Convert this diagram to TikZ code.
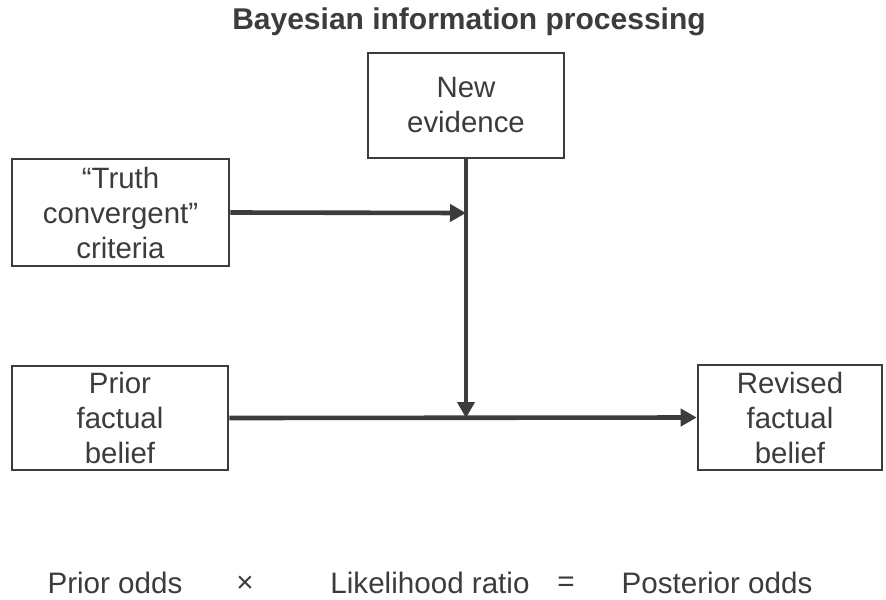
\documentclass[tikz,border=0pt]{standalone}
\usepackage{fontspec}
\setmainfont{Liberation Sans}
\usetikzlibrary{arrows.meta}
\definecolor{ink}{HTML}{3C3C3C}
\tikzset{
  box/.style={draw=ink, line width=1.3pt, text=ink, align=center, inner sep=0pt,
    font=\fontsize{14.7}{17.5}\selectfont},
  arr/.style={draw=ink, line width=2.3pt, -{Triangle[length=8pt,width=8.5pt]}},
  lbl/.style={text=ink, font=\fontsize{14.8}{17.5}\selectfont, inner sep=0pt}
}
\begin{document}
\begin{tikzpicture}[x=0.5pt,y=-0.5pt]
\useasboundingbox (0,0) rectangle (886,599);
\fill[white] (0,0) rectangle (886,599);
\node[text=ink, font=\bfseries\fontsize{15}{18}\selectfont] (title) at (469,22) {Bayesian information processing};
\node[box, minimum width=98pt, minimum height=52.5pt] (new) at (466,105.5) {New\\evidence};
\node[box, minimum width=108.5pt, minimum height=53.5pt] (truth) at (120.5,212.5) {“Truth\\convergent”\\criteria};
\node[box, minimum width=108pt, minimum height=52pt] (prior) at (120,418) {Prior\\factual\\belief};
\node[box, minimum width=92pt, minimum height=52.5pt] (rev) at (790,417.5) {Revised\\factual\\belief};
\coordinate (j1) at (466,213);
\coordinate (j2) at (466,418);
\draw[arr] (truth.east) -- (j1);
\draw[arr] (new.south) -- (j2);
\draw[arr] (prior.east) -- (rev.west);
\node[lbl] (po) at (115,583) {Prior odds};
\node[lbl] (times) at (245,584) {×};
\node[lbl] (lr) at (430,583) {Likelihood ratio};
\node[lbl] (eq) at (566,584) {=};
\node[lbl] (post) at (717,583) {Posterior odds};
\end{tikzpicture}
\end{document}
